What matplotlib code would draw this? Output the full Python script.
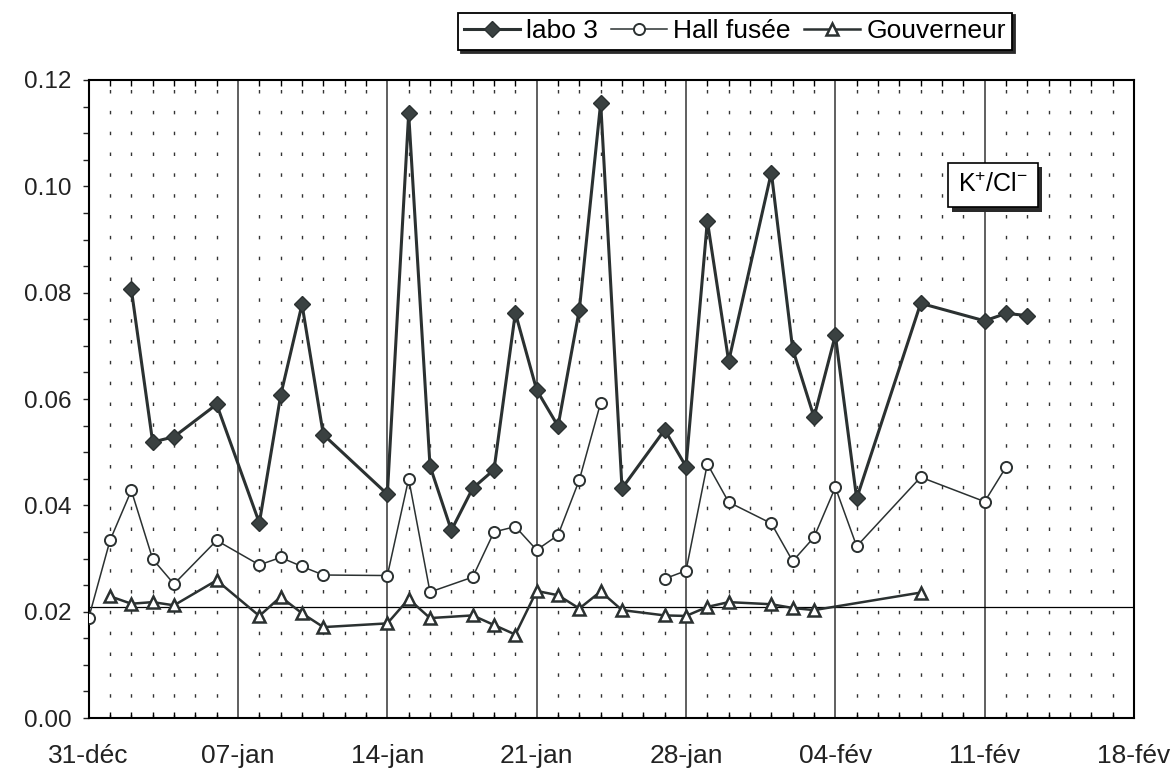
import matplotlib
matplotlib.use("Agg")
import matplotlib.pyplot as plt
import matplotlib.patheffects as pe
from matplotlib.ticker import FixedLocator, MultipleLocator
import numpy as np

plt.rcParams['font.family'] = ['Liberation Sans', 'DejaVu Sans']
plt.rcParams['mathtext.fontset'] = 'custom'
plt.rcParams['mathtext.rm'] = 'Liberation Sans'
plt.rcParams['mathtext.it'] = 'Liberation Sans:italic'

# days counted from 31-déc
labo3_days = [2, 3, 4, 6, 8, 9, 10, 11, 14, 15, 16, 17, 18, 19, 20, 21, 22, 23,
              24, 25, 27, 28, 29, 30, 32, 33, 34, 35, 36, 39, 42, 43, 44]
labo3_vals = [0.0806, 0.0519, 0.0529, 0.0590, 0.0367, 0.0607, 0.0778, 0.0533,
              0.0421, 0.1137, 0.0474, 0.0353, 0.0432, 0.0467, 0.0762, 0.0617,
              0.0549, 0.0768, 0.1157, 0.0432, 0.0542, 0.0473, 0.0935, 0.0671,
              0.1026, 0.0694, 0.0566, 0.0720, 0.0413, 0.0780, 0.0747, 0.0761,
              0.0757]

# nan at day 26 = missing sample (line break)
hall_days = [0, 1, 2, 3, 4, 6, 8, 9, 10, 11, 14, 15, 16, 18, 19, 20, 21, 22,
             23, 24, 26, 27, 28, 29, 30, 32, 33, 34, 35, 36, 39, 42, 43]
hall_vals = [0.0188, 0.0334, 0.0428, 0.0299, 0.0252, 0.0334, 0.0288, 0.0302,
             0.0285, 0.0269, 0.0268, 0.0450, 0.0237, 0.0265, 0.0350, 0.0360,
             0.0316, 0.0344, 0.0448, 0.0593, np.nan, 0.0262, 0.0277, 0.0478,
             0.0406, 0.0366, 0.0295, 0.0340, 0.0434, 0.0323, 0.0453, 0.0407,
             0.0472]

gouv_days = [1, 2, 3, 4, 6, 8, 9, 10, 11, 14, 15, 16, 18, 19, 20, 21, 22, 23,
             24, 25, 27, 28, 29, 30, 32, 33, 34, 39]
gouv_vals = [0.0229, 0.0215, 0.0218, 0.0212, 0.0259, 0.0192, 0.0228, 0.0197,
             0.0171, 0.0178, 0.0224, 0.0188, 0.0193, 0.0175, 0.0157, 0.0239,
             0.0231, 0.0206, 0.0238, 0.0203, 0.0193, 0.0192, 0.0209, 0.0218,
             0.0214, 0.0207, 0.0203, 0.0236]

week_ticks = [0, 7, 14, 21, 28, 35, 42, 49]
week_labels = ["31-déc", "07-jan", "14-jan", "21-jan", "28-jan",
               "04-fév", "11-fév", "18-fév"]
ref_level = 0.0209

ink = '#2b3131'

fig = plt.figure(figsize=(11.76, 7.82), dpi=100)
ax = fig.add_axes([0.0754, 0.0818, 0.8889, 0.8159])

ax.set_xlim(0, 49)
ax.set_ylim(0, 0.12)

# daily dotted grid, weekly solid grid
minor_days = [d for d in range(1, 49) if d % 7]
for d in minor_days:
    ax.axvline(d, color='#333333', lw=1.0, linestyle=(0, (2.5, 12.5)), zorder=1)
for d in week_ticks[1:-1]:
    ax.axvline(d, color='#444444', lw=1.2, zorder=1)

ax.axhline(ref_level, color='black', lw=0.9, zorder=2)

ax.plot(labo3_days, labo3_vals, color=ink, lw=2.2, marker='D', ms=8,
        mfc='#3a4141', mec=ink, mew=1, label='labo 3', zorder=5)
ax.plot(hall_days, hall_vals, color=ink, lw=1.1, marker='o', ms=8,
        mfc='white', mec=ink, mew=1.4, label='Hall fusée', zorder=4)
ax.plot(gouv_days, gouv_vals, color=ink, lw=1.8, marker='^', ms=9,
        mfc='white', mec=ink, mew=1.8, label='Gouverneur', zorder=4)

ax.xaxis.set_major_locator(FixedLocator(week_ticks))
ax.set_xticklabels(week_labels)
ax.xaxis.set_minor_locator(FixedLocator(minor_days))
ax.tick_params(axis='x', which='major', length=0, pad=19, labelsize=19,
               colors='#222222')
ax.tick_params(axis='x', which='minor', direction='in', length=4, width=1,
               top=True, bottom=True)

ax.yaxis.set_major_locator(MultipleLocator(0.02))
ax.yaxis.set_minor_locator(MultipleLocator(0.005))
ax.yaxis.set_major_formatter(matplotlib.ticker.FormatStrFormatter('%.2f'))
ax.tick_params(axis='y', which='both', direction='out', length=4, width=1,
               pad=8.5, labelsize=17.5, colors='#222222')

for s in ax.spines.values():
    s.set_linewidth(1.5)
    s.set_color('black')

# ratio label box
ax.text(0.865, 0.835, r'K$^{+}$/Cl$^{-}$', transform=ax.transAxes,
        fontsize=18, ha='center', va='center', zorder=6,
        bbox=dict(boxstyle='square,pad=0.4', fc='white', ec='black', lw=1.2,
                  path_effects=[pe.SimplePatchShadow(offset=(3, -3),
                                                     shadow_rgbFace='#2a2a2a',
                                                     alpha=1),
                                pe.Normal()]))

leg = fig.legend(loc='center', bbox_to_anchor=(0.625, 0.960), ncol=3,
                 fontsize=19, frameon=True, fancybox=False, edgecolor='black',
                 framealpha=1, handlelength=2.1, handletextpad=0.25,
                 columnspacing=0.5, borderpad=0.25, borderaxespad=0,
                 shadow={'color': '#2a2a2a', 'alpha': 1})
leg.get_frame().set_linewidth(1.3)

fig.savefig('out.png', dpi=100)
